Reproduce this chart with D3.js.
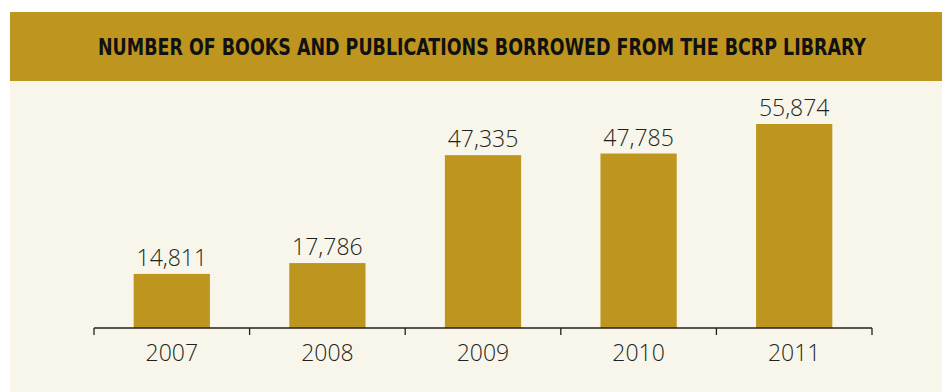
<!DOCTYPE html>
<html lang="en">
  <head>
    <meta charset="UTF-8" />
    <title>BCRP library loans</title>
    <script src="https://cdn.jsdelivr.net/npm/d3@7"></script>
    <style>
      body { margin: 0; background: #fff; }
      svg { display: block; }
    </style>
  </head>
  <body>
    <svg></svg>
    <script>
      const years = ["2007", "2008", "2009", "2010", "2011"];
      const borrowed = [14811, 17786, 47335, 47785, 55874];
      const title = "NUMBER OF BOOKS AND PUBLICATIONS BORROWED FROM THE BCRP LIBRARY";

      const width = 942, height = 392;
      const gold = "#bd951f";
      const svg = d3.select("svg").attr("width", width).attr("height", height);

      // cream panel + title band
      svg.append("rect").attr("x", 10).attr("y", 81).attr("width", width - 10).attr("height", height - 81)
        .attr("fill", "#f8f6eb");
      svg.append("rect").attr("x", 10).attr("y", 12).attr("width", width - 10).attr("height", 69)
        .attr("fill", gold);
      svg.append("text")
        .attr("x", 482).attr("y", 55)
        .attr("text-anchor", "middle")
        .attr("font-family", "'DejaVu Sans Condensed', 'Liberation Sans Narrow', sans-serif")
        .attr("font-weight", "bold")
        .attr("font-size", 23)
        .attr("textLength", 768)
        .attr("lengthAdjust", "spacingAndGlyphs")
        .attr("fill", "#111")
        .text(title);

      const x = d3.scaleBand().domain(years).range([94, 872]).paddingInner(0.51).paddingOuter(0.255);
      const y = d3.scaleLinear().domain([0, 55874]).range([328, 124]);

      const data = years.map((yr, i) => ({ year: yr, value: borrowed[i] }));

      svg.selectAll("rect.bar").data(data).enter().append("rect")
        .attr("class", "bar")
        .attr("x", d => x(d.year))
        .attr("y", d => y(d.value))
        .attr("width", x.bandwidth())
        .attr("height", d => y(0) - y(d.value))
        .attr("fill", gold);

      svg.selectAll("text.val").data(data).enter().append("text")
        .attr("class", "val")
        .attr("x", d => x(d.year) + x.bandwidth() / 2)
        .attr("y", d => y(d.value) - 8)
        .attr("text-anchor", "middle")
        .attr("font-family", "'Open Sans', sans-serif")
        .attr("font-weight", 300)
        .attr("font-size", 23)
        .attr("fill", "#231f20")
        .text(d => d3.format(",")(d.value));

      // axis: line with ticks at band boundaries
      const axis = svg.append("g").attr("stroke", "#231f20").attr("stroke-width", 1.3);
      axis.append("line").attr("x1", 94).attr("x2", 872).attr("y1", 328).attr("y2", 328);
      const edges = years.map(yr => x(yr) - x.step() * x.paddingInner() / 2).concat([872]);
      axis.selectAll("line.tick").data(edges).enter().append("line")
        .attr("class", "tick")
        .attr("x1", d => d).attr("x2", d => d)
        .attr("y1", 328).attr("y2", 335);

      svg.selectAll("text.year").data(years).enter().append("text")
        .attr("class", "year")
        .attr("x", d => x(d) + x.bandwidth() / 2)
        .attr("y", 361)
        .attr("text-anchor", "middle")
        .attr("font-family", "'Open Sans', sans-serif")
        .attr("font-weight", 300)
        .attr("font-size", 23)
        .attr("fill", "#231f20")
        .text(d => d);
    </script>
  </body>
</html>
